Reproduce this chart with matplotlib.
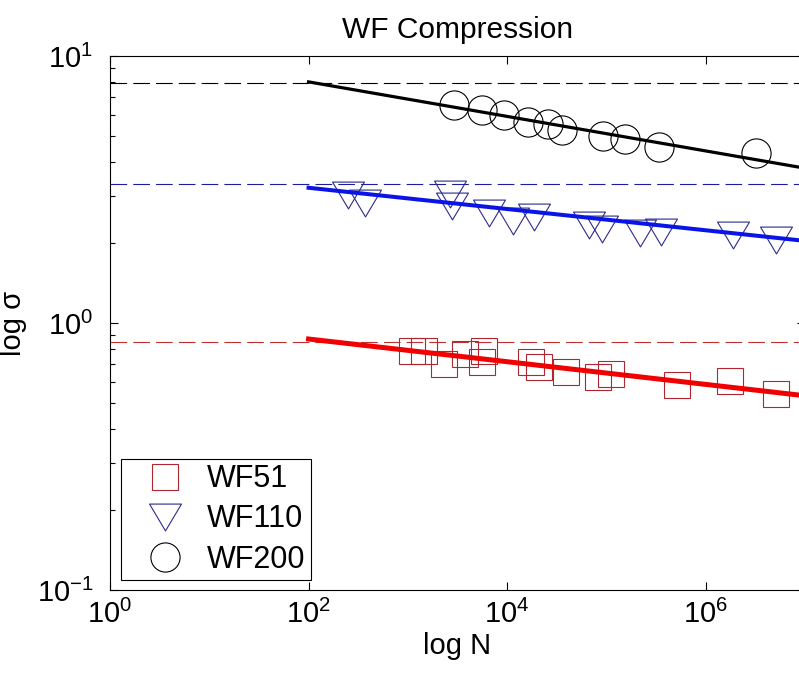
import numpy as np
import matplotlib.pyplot as plt
from matplotlib.path import Path
from matplotlib.lines import Line2D
from matplotlib.ticker import LogLocator, FuncFormatter, NullLocator, FixedLocator

plt.rcParams['font.family'] = ['Liberation Sans', 'DejaVu Sans']
plt.rcParams['mathtext.fontset'] = 'custom'
plt.rcParams['mathtext.rm'] = 'Liberation Sans'
plt.rcParams['mathtext.it'] = 'Liberation Sans:italic'

# ---- data ----
N_wf51 = [1100, 1450, 2310, 3760, 5570, 5830, 17400, 20900, 39100,
          82000, 111000, 513000, 1750000, 5090000]
s_wf51 = [0.785, 0.785, 0.702, 0.765, 0.714, 0.785, 0.714, 0.684, 0.655,
          0.628, 0.644, 0.586, 0.607, 0.542]

N_wf110 = [249, 370, 2655, 2780, 6560, 11430, 18620, 66700, 90200,
           217000, 354000, 1880000, 5090000]
s_wf110 = [3.01, 2.81, 3.04, 2.74, 2.58, 2.41, 2.50, 2.33, 2.25,
           2.17, 2.19, 2.14, 2.05]

N_wf200 = [2910, 5570, 9290, 16200, 25800, 35700, 92300, 153500, 338000, 3210000]
s_wf200 = [6.55, 6.28, 6.01, 5.66, 5.56, 5.28, 5.01, 4.89, 4.56, 4.33]

# fitted lines (end points) and static strength levels
fit_N = [1e2, 1e7]
fit_wf51 = [0.871, 0.534]
fit_wf110 = [3.21, 2.03]
fit_wf200 = [8.0, 3.80]
static_wf51 = 0.851
static_wf110 = 3.31
static_wf200 = 7.94

labels = ['WF51', 'WF110', 'WF200']

# ---- figure ----
fig = plt.figure(figsize=(7.99, 6.74), dpi=100)
ax = fig.add_axes([110/799, 84/674, 695/799, 534/674])
ax.set_xscale('log')
ax.set_yscale('log')
ax.set_xlim(1, 1e7)
ax.set_ylim(0.1, 10)

# wide, flat down triangle like the matlab one
tri = Path([(-1, 0.84), (1, 0.84), (0, -0.84), (-1, 0.84)],
           [Path.MOVETO, Path.LINETO, Path.LINETO, Path.CLOSEPOLY])

c51 = '#b02630'
c110 = '#2b2b8c'
c200 = 'black'
mew = 0.8

dash = (0, (15, 5.5))
ax.axhline(static_wf200, color='black', lw=0.8, ls=dash)
ax.axhline(static_wf110, color='#1c1ca0', lw=0.8, ls=dash)
ax.axhline(static_wf51, color='#c03030', lw=0.8, ls=dash)

ax.plot(N_wf51, s_wf51, ls='none', marker='s', ms=18.5, mfc='none', mec=c51, mew=mew)
ax.plot(N_wf110, s_wf110, ls='none', marker=tri, ms=23, mfc='none', mec=c110, mew=mew)
ax.plot(N_wf200, s_wf200, ls='none', marker='o', ms=21, mfc='none', mec=c200, mew=mew)

ax.plot(fit_N, fit_wf200, color='black', lw=2.3)
ax.plot(fit_N, fit_wf110, color='#0a14e6', lw=2.9)
ax.plot(fit_N, fit_wf51, color='#f00000', lw=3.6)

# ticks
ax.xaxis.set_major_locator(FixedLocator([1, 1e2, 1e4, 1e6]))
ax.xaxis.set_minor_locator(NullLocator())
ax.yaxis.set_major_locator(FixedLocator([0.1, 1, 10]))
ax.yaxis.set_minor_locator(LogLocator(base=10, subs=np.arange(2, 10)))
fmt = FuncFormatter(lambda v, p: r'$\mathregular{10^{%d}}$' % round(np.log10(v)))
ax.xaxis.set_major_formatter(fmt)
ax.yaxis.set_major_formatter(fmt)
ax.yaxis.set_minor_formatter(FuncFormatter(lambda v, p: ''))
ax.tick_params(which='both', direction='in', top=True, right=True, width=0.8)
ax.tick_params(which='major', length=6)
ax.tick_params(which='minor', length=3.5)
ax.tick_params(axis='x', labelsize=21, pad=7)
ax.tick_params(axis='y', labelsize=21, pad=12)
for sp in ax.spines.values():
    sp.set_linewidth(0.8)

ax.set_xlabel('log N', fontsize=21, labelpad=2)
ax.set_ylabel('log σ', fontsize=21, labelpad=7)
ax.set_title('WF Compression', fontsize=21.5, pad=13)

handles = [
    Line2D([], [], ls='none', marker='s', ms=18.5, mfc='none', mec=c51, mew=mew),
    Line2D([], [], ls='none', marker=tri, ms=23, mfc='none', mec=c110, mew=mew),
    Line2D([], [], ls='none', marker='o', ms=21, mfc='none', mec=c200, mew=mew),
]
leg = ax.legend(handles, labels, loc='lower left', bbox_to_anchor=(0.0158, 0.0187),
                borderaxespad=0, fancybox=False, edgecolor='black', framealpha=1,
                fontsize=22, handlelength=2.5, handletextpad=0.14,
                labelspacing=0.33, borderpad=0.18)
leg.get_frame().set_linewidth(0.8)

fig.savefig('out.png', dpi=100)
